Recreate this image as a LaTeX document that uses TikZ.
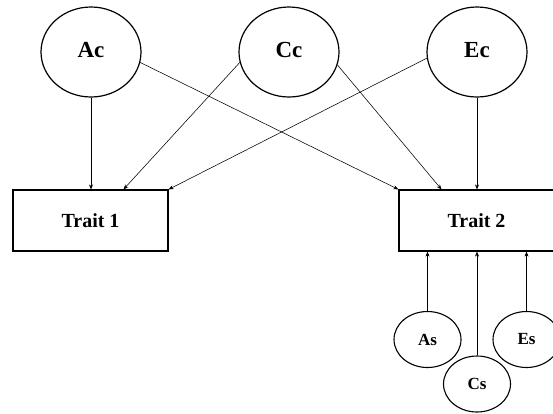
\documentclass[tikz,border=0pt]{standalone}
\usepackage{fontspec}
\setmainfont{Liberation Serif}
\usetikzlibrary{arrows.meta,shapes.geometric}
\begin{document}
\begin{tikzpicture}[x=1pt,y=-1pt,
  common/.style={draw, ellipse, line width=1.2pt, minimum width=100pt,
    minimum height=90pt, inner sep=0pt,
    font=\fontsize{23}{25}\selectfont\bfseries},
  specific/.style={draw, ellipse, line width=1.1pt, minimum width=67pt,
    minimum height=56pt, inner sep=0pt, fill=white,
    font=\fontsize{17}{19}\selectfont\bfseries},
  trait/.style={draw, rectangle, line width=1.2pt, minimum width=155pt,
    minimum height=61pt, inner sep=0pt,
    font=\fontsize{20}{22}\selectfont\bfseries},
  link/.style={-{Stealth[length=5pt,width=4pt]}, line width=0.55pt}]
\useasboundingbox (0,0) rectangle (553,413);

% common (shared) factors
\node[common] (Ac) at (91,52) {\raisebox{4pt}{Ac}};
\node[common] (Cc) at (289,52) {\raisebox{4pt}{Cc}};
\node[common] (Ec) at (477,52) {\raisebox{4pt}{Ec}};

% observed traits
\node[trait] (T1) at (90.5,220.5) {Trait 1};
\node[trait] (T2) at (476.5,220.5) {Trait 2};

% specific factors of trait 2
\node[specific] (As) at (427.5,339.5) {As};
\node[specific] (Es) at (526.5,339.5) {Es};
\node[specific] (Cs) at (477,384) {Cs};

% paths from the common factors
\draw[link] (Ac.south) -- (Ac |- T1.north);
\draw[link] (Cc.-168) -- ([xshift=33pt]T1.north);
\draw[link] (Ec.-173) -- (T1.north east);
\draw[link] (Ac.-12) -- (T2.north west);
\draw[link] (Cc.-15) -- ([xshift=-35pt]T2.north);
\draw[link] (Ec.south) -- (Ec |- T2.north);

% paths from the specific factors
\draw[link] (As.north) -- (As |- T2.south);
\draw[link] (Cs.north) -- (Cs |- T2.south);
\draw[link] (Es.north) -- (Es |- T2.south);
\end{tikzpicture}
\end{document}
